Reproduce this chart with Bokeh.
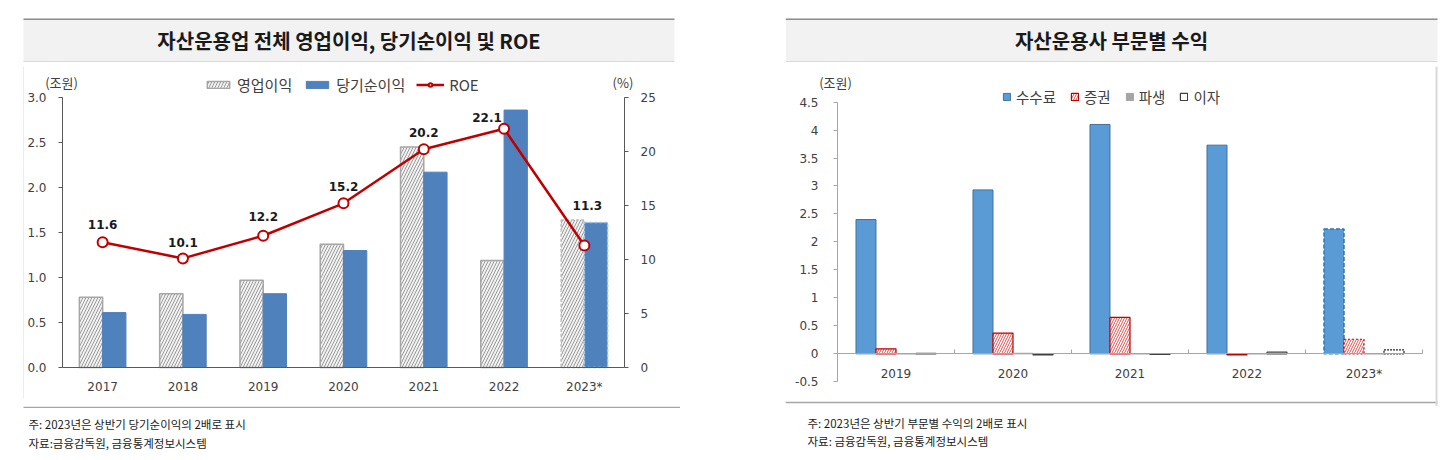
from bokeh.plotting import figure
from bokeh.models import (ColumnDataSource, Range1d, LinearAxis, FixedTicker, FactorRange,
                          NumeralTickFormatter, CustomJSTickFormatter, Legend, LegendItem,
                          Label, Spacer, Span)
from bokeh.layouts import row, column
from bokeh.transform import dodge
from bokeh.core.properties import value
from bokeh.embed import file_html
from bokeh.resources import INLINE

KR = "Noto Sans CJK KR"
NUM = "DejaVu Sans"

# ---------------- data: left chart ----------------
title_left = "자산운용업 전체 영업이익, 당기순이익 및 ROE"
years_left = ["2017", "2018", "2019", "2020", "2021", "2022", "2023*"]
op_income = [0.78, 0.82, 0.97, 1.37, 2.45, 1.19, 1.64]      # 영업이익 (조원)
net_income = [0.61, 0.59, 0.82, 1.30, 2.17, 2.86, 1.61]     # 당기순이익 (조원)
roe = [11.6, 10.1, 12.2, 15.2, 20.2, 22.1, 11.3]            # ROE (%)
left_ticks = [0.0, 0.5, 1.0, 1.5, 2.0, 2.5, 3.0]
right_ticks = [0, 5, 10, 15, 20, 25]
note_left = ["주: 2023년은 상반기 당기순이익의 2배로 표시", "자료:금융감독원, 금융통계정보시스템"]

# ---------------- data: right chart ----------------
title_right = "자산운용사 부문별 수익"
years_right = ["2019", "2020", "2021", "2022", "2023*"]
fee = [2.40, 2.93, 4.10, 3.73, 2.23]            # 수수료
securities = [0.09, 0.37, 0.65, -0.02, 0.26]    # 증권
derivatives = [0.0, 0.01, 0.0, 0.0, 0.0]        # 파생
interest = [0.01, -0.02, -0.01, 0.03, 0.07]     # 이자
r_ticks = [-0.5, 0, 0.5, 1, 1.5, 2, 2.5, 3, 3.5, 4, 4.5]
note_right = ["주: 2023년은 상반기 부문별 수익의 2배로 표시", "자료: 금융감독원, 금융통계정보시스템"]

# label placement for ROE values (pixels)
roe_label_dx = [0, 0, 0, 0, 0, -17, 3]
roe_label_dy = [-18, -16, -19, -17, -17, -11, -40]


def deco(w, h):
    f = figure(width=w, height=h, x_range=Range1d(0, w), y_range=Range1d(h, 0),
               x_axis_type=None, y_axis_type=None, toolbar_location=None,
               output_backend="svg", min_border=0)
    f.outline_line_color = None
    f.background_fill_color = "white"
    f.border_fill_color = "white"
    return f


def title_fig(w, x0, x1, text):
    f = deco(w, 62)
    f.quad(left=[x0], right=[x1], top=[18], bottom=[62], fill_color="#f2f2f2", line_color=None)
    f.segment(x0=[x0], y0=[18.75], x1=[x1], y1=[18.75], line_color="#8c8c8c", line_width=1.5)
    f.segment(x0=[x0], y0=[61.25], x1=[x1], y1=[61.25], line_color="#d9d9d9", line_width=1.5)
    f.text(x=[(x0 + x1) / 2], y=[40], text=[text], text_font=value(KR), text_font_style="bold",
           text_font_size="20px", text_color="#1a1a1a", text_align="center", text_baseline="middle")
    return f


def foot_fig(w, h, line, x0, x1, tx, ty, lines):
    f = deco(w, h)
    if line:
        f.segment(x0=[x0], y0=[0.75], x1=[x1], y1=[0.75], line_color="#a6a6a6", line_width=1.5)
    f.text(x=[tx, tx], y=ty, text=lines, text_font=value(KR), text_font_size="11.5px",
           text_color="#1a1a1a", text_align="left", text_baseline="middle")
    return f


def style_axis(ax, color="#595959"):
    ax.axis_line_color = color
    ax.major_tick_line_color = color
    ax.minor_tick_line_color = None
    ax.major_tick_in = 0
    ax.major_tick_out = 4
    ax.major_label_text_font = NUM
    ax.major_label_text_font_size = "12px"
    ax.major_label_text_color = "#404040"


# ================= LEFT CHART =================
y_end_l = 3.344
y_start_l = -0.4333
pad_l = 38 / 80.286
pl = figure(x_range=FactorRange(*years_left, range_padding=pad_l, range_padding_units="absolute"),
            y_range=Range1d(y_start_l, y_end_l), width=656, height=344,
            toolbar_location=None, output_backend="svg",
            min_border_left=0, min_border_right=18, min_border_top=4, min_border_bottom=0)
pl.outline_line_color = None
pl.xgrid.grid_line_color = None
pl.ygrid.grid_line_color = None
pl.extra_y_ranges = {"roe": Range1d(y_start_l * 25 / 3, y_end_l * 25 / 3)}

style_axis(pl.yaxis[0])
pl.yaxis.ticker = FixedTicker(ticks=left_ticks)
pl.yaxis.formatter = NumeralTickFormatter(format="0.0")
pl.yaxis.bounds = (0, 3)
pl.yaxis.fixed_location = 0
pl.yaxis.major_label_standoff = 12

style_axis(pl.xaxis[0])
pl.xaxis.major_tick_line_color = None
pl.xaxis.major_label_standoff = 9
pl.xaxis.bounds = (0, len(years_left))
pl.xaxis.fixed_location = 0

ax_r = LinearAxis(y_range_name="roe", ticker=FixedTicker(ticks=right_ticks), bounds=(0, 25),
                  fixed_location=len(years_left))
style_axis(ax_r)
ax_r.major_label_standoff = 12
pl.add_layout(ax_r, "right")

src_l_main = ColumnDataSource(dict(x=years_left[:6], op=op_income[:6], net=net_income[:6]))
src_l_last = ColumnDataSource(dict(x=years_left[6:], op=op_income[6:], net=net_income[6:]))
src_roe = ColumnDataSource(dict(x=years_left, roe=roe, lbl=[f"{v:.1f}" for v in roe],
                                dx=roe_label_dx, dy=roe_label_dy))

BW = 0.29
hatch_kw = dict(fill_color="#f2f2f2", hatch_pattern="/", hatch_color="#9a9a9a", hatch_scale=6,
                hatch_weight=1)
r_op = pl.vbar(x=dodge("x", -BW / 2, range=pl.x_range), top="op", width=BW, source=src_l_main,
               line_color="#a6a6a6", line_width=1.5, **hatch_kw)
pl.vbar(x=dodge("x", -BW / 2, range=pl.x_range), top="op", width=BW, source=src_l_last,
        line_color="#bfbfbf", line_width=1.5, line_dash="3 2", **hatch_kw)
r_net = pl.vbar(x=dodge("x", BW / 2, range=pl.x_range), top="net", width=BW, source=src_l_main,
                fill_color="#4f81bd", line_color="#4f81bd", line_width=1)
pl.vbar(x=dodge("x", BW / 2, range=pl.x_range), top="net", width=BW, source=src_l_last,
        fill_color="#4f81bd", line_color="#9dc3e6", line_width=1.5, line_dash="3 2")

r_line = pl.line(x="x", y="roe", source=src_roe, y_range_name="roe", line_color="#c00000", line_width=2.5)
r_pts = pl.scatter(x="x", y="roe", source=src_roe, y_range_name="roe", marker="circle", size=10,
                   fill_color="white", line_color="#c00000", line_width=2)
pl.text(x="x", y="roe", text="lbl", source=src_roe, y_range_name="roe", x_offset="dx", y_offset="dy",
        text_font=value(NUM), text_font_style="bold", text_font_size="12px", text_color="#1a1a1a",
        text_align="center", text_baseline="middle")

leg_l = Legend(items=[LegendItem(label="영업이익", renderers=[r_op]),
                      LegendItem(label="당기순이익", renderers=[r_net]),
                      LegendItem(label="ROE", renderers=[r_line, r_pts])],
               orientation="horizontal", location=(180, 311), margin=0, padding=0,
               spacing=11, glyph_width=28, glyph_height=9, label_standoff=5,
               label_text_font=KR, label_text_font_size="15px", label_text_color="#404040",
               border_line_color=None, background_fill_alpha=0)
pl.add_layout(leg_l)

pl.add_layout(Label(x=37, y=324, x_units="screen", y_units="screen", text="(조원)",
                    text_align="center", text_baseline="middle", text_font=KR,
                    text_font_size="13px", text_color="#404040"))
pl.add_layout(Label(x=598.5, y=324, x_units="screen", y_units="screen", text="(%)",
                    text_align="center", text_baseline="middle", text_font=KR,
                    text_font_size="13px", text_color="#404040"))

strip_l = deco(24, 344)
strip_l.segment(x0=[23.5], y0=[0], x1=[23.5], y1=[336], line_color="#d9d9d9", line_width=1)

# ================= RIGHT CHART =================
PXU = 117.0        # pixels per category
PYU = 56.6         # pixels per 1 조원
xi = [i + 0.5 for i in range(len(years_right))]
pr = figure(x_range=Range1d(-52 / PXU, len(years_right) + 25 / PXU),
            y_range=Range1d(-0.5 - 25 / PYU, 4.5 + 36 / PYU), width=662, height=344,
            toolbar_location=None, output_backend="svg", min_border=0)
pr.outline_line_color = None
pr.xgrid.grid_line_color = None
pr.ygrid.grid_line_color = None

style_axis(pr.yaxis[0], "#a6a6a6")
pr.yaxis.ticker = FixedTicker(ticks=r_ticks)
pr.yaxis.formatter = NumeralTickFormatter(format="0.[0]")
pr.yaxis.bounds = (-0.5, 4.5)
pr.yaxis.fixed_location = 0
pr.yaxis.major_label_standoff = 15

style_axis(pr.xaxis[0], "#a6a6a6")
pr.xaxis.ticker = FixedTicker(ticks=xi, minor_ticks=list(range(len(years_right) + 1)))
pr.xaxis.formatter = CustomJSTickFormatter(args=dict(labels=years_right),
                                           code="return labels[Math.floor(tick)] || '';")
pr.xaxis.major_tick_line_color = None
pr.xaxis.minor_tick_line_color = "#a6a6a6"
pr.xaxis.minor_tick_in = 4
pr.xaxis.minor_tick_out = 0
pr.xaxis.fixed_location = 0
pr.xaxis.bounds = (0, len(years_right))
pr.xaxis.major_label_standoff = 9

src_r_main = ColumnDataSource(dict(x=xi[:4], fee=fee[:4], sec=securities[:4],
                                   der=derivatives[:4], intr=interest[:4]))
src_r_last = ColumnDataSource(dict(x=xi[4:], fee=fee[4:], sec=securities[4:],
                                   der=derivatives[4:], intr=interest[4:]))
RW = 0.171
offs = [-1.5 * RW, -0.5 * RW, 0.5 * RW, 1.5 * RW]

fee_kw = dict(fill_color="#5b9bd5")
sec_kw = dict(fill_color="white", hatch_pattern="/", hatch_color="#e05050", hatch_scale=5, hatch_weight=1)
der_kw = dict(fill_color="#a5a5a5", line_color="#a5a5a5")
int_kw = dict(fill_color="white")

r_fee = pr.vbar(x=dodge("x", offs[0]), top="fee", width=RW, source=src_r_main,
                line_color="#41719c", line_width=1, **fee_kw)
pr.vbar(x=dodge("x", offs[0]), top="fee", width=RW, source=src_r_last,
        line_color="#2e75b6", line_width=1.5, line_dash="4 2", **fee_kw)
r_sec = pr.vbar(x=dodge("x", offs[1]), top="sec", width=RW, source=src_r_main,
                line_color="#c00000", line_width=1.2, **sec_kw)
pr.vbar(x=dodge("x", offs[1]), top="sec", width=RW, source=src_r_last,
        line_color="#c00000", line_width=1.2, line_dash="2 2", **sec_kw)
r_der = pr.vbar(x=dodge("x", offs[2]), top="der", width=RW, source=src_r_main, **der_kw)
pr.vbar(x=dodge("x", offs[2]), top="der", width=RW, source=src_r_last, **der_kw)
r_int = pr.vbar(x=dodge("x", offs[3]), top="intr", width=RW, source=src_r_main,
                line_color="#404040", line_width=1.2, **int_kw)
pr.vbar(x=dodge("x", offs[3]), top="intr", width=RW, source=src_r_last,
        line_color="#262626", line_width=1.2, line_dash="2 1", **int_kw)

leg_r = Legend(items=[LegendItem(label="수수료", renderers=[r_fee]),
                      LegendItem(label="증권", renderers=[r_sec]),
                      LegendItem(label="파생", renderers=[r_der]),
                      LegendItem(label="이자", renderers=[r_int])],
               orientation="horizontal", location=(217, 299), margin=0, padding=0,
               spacing=14, glyph_width=9, glyph_height=9, label_standoff=5,
               label_text_font=KR, label_text_font_size="14.5px", label_text_color="#404040",
               border_line_color=None, background_fill_alpha=0)
pr.add_layout(leg_r)

pr.add_layout(Label(x=50, y=324, x_units="screen", y_units="screen", text="(조원)",
                    text_align="center", text_baseline="middle", text_font=KR,
                    text_font_size="13px", text_color="#404040"))

# panel frame: right border and bottom rule
pr.add_layout(Span(location=len(years_right) + 14 / PXU, dimension="height",
                   line_color="#d9d9d9", line_width=2))
pr.segment(x0=[-52 / PXU], y0=[-0.5 - 21 / PYU], x1=[len(years_right) + 15 / PXU],
           y1=[-0.5 - 21 / PYU], line_color="#a6a6a6", line_width=1.5)

# ================= PAGE =================
top_row = row(title_fig(680, 23, 674, title_left), Spacer(width=105, height=62),
              title_fig(662, 0, 652, title_right))
mid_row = row(strip_l, pl, Spacer(width=105, height=344), pr)
bot_row = row(foot_fig(680, 46, True, 23, 680, 28, [17, 36], note_left),
              Spacer(width=105, height=46),
              foot_fig(662, 46, False, 0, 652, 22, [16, 34], note_right))
layout = column(top_row, mid_row, bot_row)

open("out.html", "w").write(file_html(layout, INLINE))
